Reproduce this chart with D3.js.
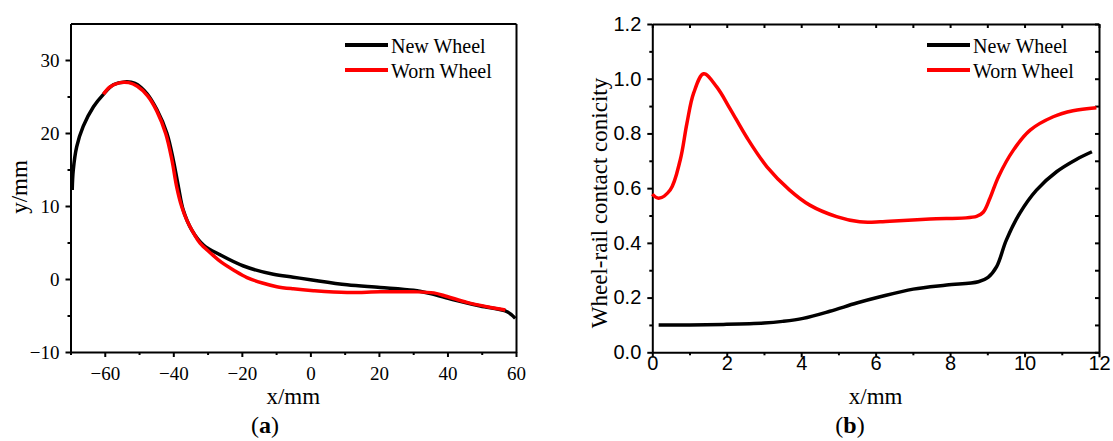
<!DOCTYPE html>
<html>
<head>
<meta charset="utf-8">
<script src="https://cdn.jsdelivr.net/npm/d3@7"></script>
<style>
  body { margin: 0; background: #fff; }
  svg { display: block; }
</style>
</head>
<body>
<svg id="stage" width="1113" height="441"></svg>
<script>

// panel (a): wheel profiles, x/mm vs y/mm
var newProfileX = [-69.5, -69.2, -68.2, -66.3, -63.3, -60.4, -57.5, -54.1, -51.2, -47.7, -44.8, -41.9, -40.0, -38.5, -37.1, -34.6, -31.2, -26.3, -19.5, -10.8, -5, 0, 10.7, 20.4, 30.1, 35, 41.8, 49.6, 57.4, 59.8];
var newProfileY = [12.2, 14.9, 18.1, 20.9, 23.6, 25.3, 26.6, 27.0, 26.8, 25.4, 23.2, 20.0, 16.3, 12.6, 9.45, 6.7, 4.66, 3.3, 1.78, 0.64, 0.25, -0.1, -0.8, -1.15, -1.55, -2.0, -2.85, -3.7, -4.48, -5.4];

var wornProfileX = [-60.4, -58.5, -55.5, -53, -50.5, -47.5, -44.8, -42.2, -40.4, -39.0, -37.6, -36.1, -34, -32.2, -29, -26, -22, -18.5, -14, -9.8, -5, 0.9, 10.7, 20.4, 30.1, 36, 39.9, 45.7, 51.6, 56.9];
var wornProfileY = [25.3, 26.3, 26.9, 26.9, 26.4, 25.1, 23.0, 19.9, 16.3, 12.6, 10.0, 8.1, 6.2, 4.9, 3.5, 2.3, 1.1, 0.2, -0.55, -1.05, -1.35, -1.6, -1.85, -1.75, -1.75, -1.9, -2.4, -3.2, -3.8, -4.25];

// panel (b): conicity vs x/mm
var newConX = [0.17, 1.0, 1.91, 3.0, 3.5, 4.05, 4.77, 5.49, 6.12, 7.01, 7.91, 8.76, 9.02, 9.25, 9.51, 9.87, 10.32, 10.86, 11.39, 11.81];
var newConY = [0.1, 0.1, 0.102, 0.107, 0.113, 0.124, 0.15, 0.18, 0.203, 0.231, 0.246, 0.258, 0.274, 0.313, 0.41, 0.508, 0.593, 0.66, 0.705, 0.733];

var wornConX = [0, 0.17, 0.48, 0.75, 0.93, 1.11, 1.38, 1.73, 2.09, 2.54, 3.08, 3.69, 4.23, 4.95, 5.57, 6.12, 6.38, 7.46, 8.71, 8.89, 9.07, 9.30, 9.70, 10.15, 10.77, 11.30, 11.93];
var wornConY = [0.578, 0.563, 0.593, 0.703, 0.837, 0.947, 1.018, 0.97, 0.89, 0.785, 0.678, 0.593, 0.538, 0.496, 0.477, 0.477, 0.479, 0.487, 0.497, 0.512, 0.563, 0.642, 0.739, 0.812, 0.861, 0.883, 0.894];

// ticks
var xTicksA = [-60, -40, -20, 0, 20, 40, 60];
var xMinorA = [-70, -50, -30, -10, 10, 30, 50];
var yTicksA = [-10, 0, 10, 20, 30];
var yMinorA = [-5, 5, 15, 25];

var xTicksB = [0, 2, 4, 6, 8, 10, 12];
var xMinorB = [1, 3, 5, 7, 9, 11];
var yTicksB = [0, 0.2, 0.4, 0.6, 0.8, 1.0, 1.2];
var yMinorB = [0.1, 0.3, 0.5, 0.7, 0.9, 1.1];

var seriesNames = ["New Wheel", "Worn Wheel"];
var seriesColors = ["#000000", "#ff0000"];

var serif = "'Liberation Serif', 'Times New Roman', serif";
var sans = "'Liberation Sans', Arial, sans-serif";

var svg = d3.select("#stage");

function zipPts(xs, ys){
  return xs.map(function(x, i){ return {x: x, y: ys[i]}; });
}

function styleAxis(g, font, size){
  g.attr("font-family", font).attr("font-size", size);
  g.selectAll("path, line").attr("stroke", "#000").attr("stroke-width", 2);
  g.selectAll("text").attr("fill", "#000");
}

function drawPanel(p){
  var x = d3.scaleLinear().domain(p.xDomain).range(p.xRange);
  var y = d3.scaleLinear().domain(p.yDomain).range(p.yRange);
  var bottom = p.yRange[0], top = p.yRange[1];
  var left = p.xRange[0], right = p.xRange[1];

  //minor ticks first
  var gxm = svg.append("g").attr("transform", "translate(0," + bottom + ")")
    .call(d3.axisBottom(x).tickValues(p.xMinor).tickSize(3).tickSizeOuter(0).tickFormat(""));
  gxm.select(".domain").remove();
  styleAxis(gxm, p.tickFont, p.tickSize);

  var gym = svg.append("g").attr("transform", "translate(" + left + ",0)")
    .call(d3.axisLeft(y).tickValues(p.yMinor).tickSize(3).tickSizeOuter(0).tickFormat(""));
  gym.select(".domain").remove();
  styleAxis(gym, p.tickFont, p.tickSize);

  //major
  var gx = svg.append("g").attr("transform", "translate(0," + bottom + ")")
    .call(d3.axisBottom(x).tickValues(p.xTicks).tickSize(5).tickSizeOuter(0).tickFormat(p.xFormat));
  styleAxis(gx, p.tickFont, p.tickSize);
  gx.selectAll("text").attr("y", p.xLabelY).attr("dy", "0.71em");

  var gy = svg.append("g").attr("transform", "translate(" + left + ",0)")
    .call(d3.axisLeft(y).tickValues(p.yTicks).tickSize(5).tickSizeOuter(0).tickFormat(p.yFormat));
  styleAxis(gy, p.tickFont, p.tickSize);
  gy.selectAll("text").attr("x", -11);

  //top + right frame
  var gt = svg.append("g").attr("transform", "translate(0," + top + ")")
    .call(d3.axisTop(x).tickValues(p.mirrorTicks ? p.xTicks.concat(p.xMinor) : []).tickSize(-4).tickSizeOuter(0).tickFormat(""));
  styleAxis(gt, p.tickFont, p.tickSize);
  var gr = svg.append("g").attr("transform", "translate(" + right + ",0)")
    .call(d3.axisRight(y).tickValues(p.mirrorTicks ? p.yTicks.concat(p.yMinor) : []).tickSize(-4).tickSizeOuter(0).tickFormat(""));
  styleAxis(gr, p.tickFont, p.tickSize);

  //curves
  var line = d3.line()
    .x(function(d){ return x(d.x); })
    .y(function(d){ return y(d.y); })
    .curve(d3.curveCatmullRom.alpha(0.5));

  p.series.forEach(function(s, i){
    svg.append("path")
      .datum(s)
      .attr("d", line)
      .attr("fill", "none")
      .attr("stroke", seriesColors[i])
      .attr("stroke-width", 3.5)
      .attr("stroke-linejoin", "round");
  });

  //legend
  seriesNames.forEach(function(name, i){
    var ly = p.legendY + i * 25;
    svg.append("line")
      .attr("x1", p.legendX).attr("x2", p.legendX + 43)
      .attr("y1", ly).attr("y2", ly)
      .attr("stroke", seriesColors[i]).attr("stroke-width", 4);
    svg.append("text")
      .attr("x", p.legendX + 46).attr("y", ly + 7.5)
      .attr("font-family", serif).attr("font-size", 20)
      .text(name);
  });

  //axis titles
  svg.append("text")
    .attr("x", (left + right) / 2).attr("y", 404)
    .attr("text-anchor", "middle")
    .attr("font-family", serif).attr("font-size", 23)
    .text("x/mm");
  svg.append("text")
    .attr("transform", "translate(" + p.yTitleX + "," + p.yTitleY + ") rotate(-90)")
    .attr("text-anchor", "middle")
    .attr("font-family", serif).attr("font-size", 23)
    .text(p.yTitle);

  //caption
  var cap = svg.append("text")
    .attr("x", p.capX).attr("y", 433)
    .attr("text-anchor", "middle")
    .attr("font-family", serif).attr("font-size", 24);
  cap.append("tspan").text("(");
  cap.append("tspan").attr("font-weight", "bold").text(p.capLetter);
  cap.append("tspan").text(")");
}

drawPanel({
  xDomain: [-70, 60], xRange: [70.5, 516],
  yDomain: [-10, 35], yRange: [352, 23.5],
  xTicks: xTicksA, xMinor: xMinorA, yTicks: yTicksA, yMinor: yMinorA,
  xFormat: d3.format(""), yFormat: d3.format(""),
  tickFont: serif, tickSize: 19, xLabelY: 14.5,
  mirrorTicks: false,
  series: [zipPts(newProfileX, newProfileY), zipPts(wornProfileX, wornProfileY)],
  legendX: 345, legendY: 45,
  yTitle: "y/mm", yTitleX: 27, yTitleY: 187,
  capX: 265, capLetter: "a"
});

drawPanel({
  xDomain: [0, 12], xRange: [652.3, 1099],
  yDomain: [0, 1.2], yRange: [352.3, 24],
  xTicks: xTicksB, xMinor: xMinorB, yTicks: yTicksB, yMinor: yMinorB,
  xFormat: d3.format("d"), yFormat: d3.format(".1f"),
  tickFont: sans, tickSize: 20, xLabelY: 4,
  mirrorTicks: true,
  series: [zipPts(newConX, newConY), zipPts(wornConX, wornConY)],
  legendX: 927, legendY: 45,
  yTitle: "Wheel-rail contact conicity", yTitleX: 607, yTitleY: 203,
  capX: 850, capLetter: "b"
});

</script>
</body>
</html>
